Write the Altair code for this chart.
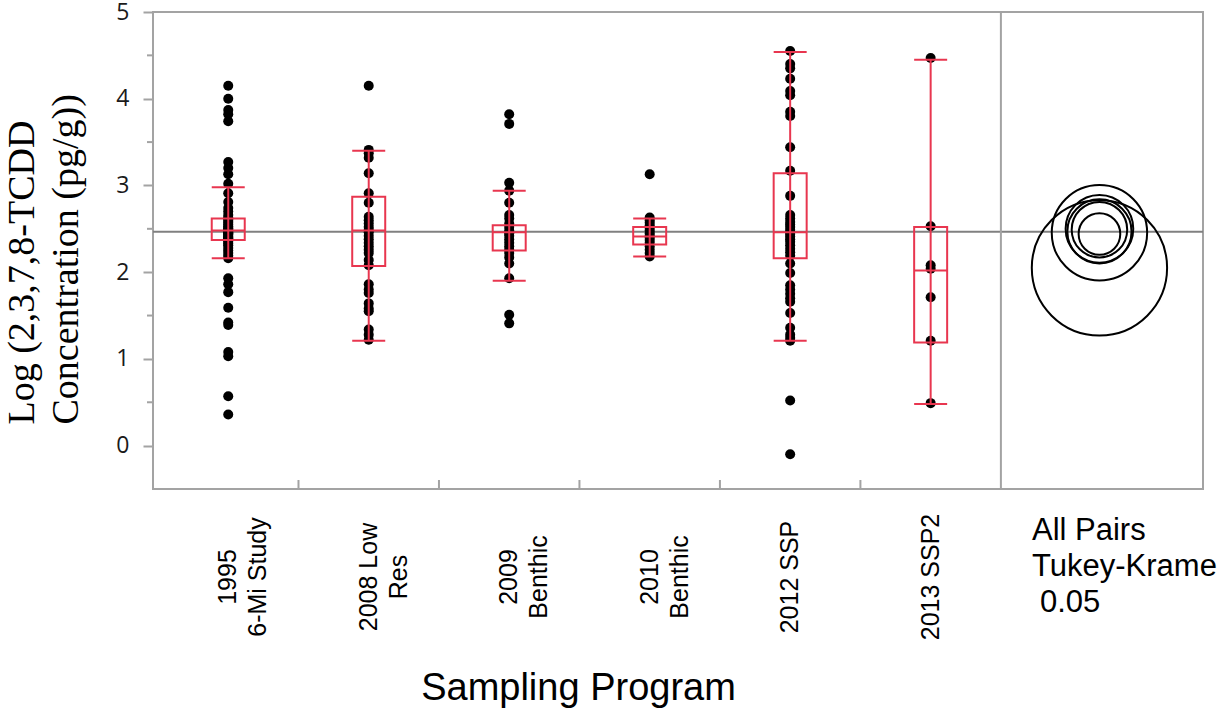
import altair as alt
import pandas as pd

# Sampling programs (x categories), label lines split with "\n"
programs = ["1995\n6-Mi Study", "2008 Low\nRes", "2009\nBenthic",
            "2010\nBenthic", "2012 SSP", "2013 SSP2"]

# log10 2,3,7,8-TCDD concentrations (pg/g) per program
conc_1995 = [4.15, 4.00, 3.87, 3.82, 3.74, 3.27, 3.20, 3.13, 3.02, 2.91, 2.81,
             2.74, 2.70, 2.66, 2.63, 2.61, 2.59, 2.57, 2.55, 2.53, 2.51, 2.50,
             2.49, 2.48, 2.47, 2.46, 2.45, 2.44, 2.43, 2.41, 2.40, 2.39, 2.38,
             2.37, 2.35, 2.33, 2.31, 2.28, 2.25, 2.22, 2.19, 2.16, 1.93, 1.86,
             1.77, 1.59, 1.42, 1.39, 1.08, 1.03, 0.57, 0.36]
conc_2008 = [4.15, 3.41, 3.37, 3.32, 3.14, 2.91, 2.80, 2.64, 2.60, 2.56, 2.52,
             2.49, 2.46, 2.42, 2.38, 2.34, 2.30, 2.26, 2.22, 2.14, 2.08, 1.86,
             1.80, 1.76, 1.64, 1.58, 1.55, 1.34, 1.28, 1.22]
conc_2009 = [3.82, 3.71, 3.03, 2.94, 2.80, 2.66, 2.62, 2.56, 2.52, 2.48, 2.45,
             2.42, 2.38, 2.34, 2.30, 2.26, 2.22, 2.17, 2.10, 1.93, 1.51, 1.41]
conc_2010 = [3.13, 2.63, 2.60, 2.57, 2.54, 2.51, 2.48, 2.45, 2.42, 2.40, 2.37,
             2.34, 2.30, 2.26, 2.22, 2.18]
conc_2012 = [4.55, 4.40, 4.35, 4.23, 4.09, 4.04, 3.85, 3.80, 3.44, 3.17, 2.88,
             2.66, 2.62, 2.58, 2.55, 2.52, 2.49, 2.46, 2.44, 2.41, 2.38, 2.35,
             2.31, 2.27, 2.23, 2.19, 2.10, 1.99, 1.85, 1.80, 1.75, 1.70, 1.66,
             1.53, 1.36, 1.28, 1.24, 1.21, 0.52, -0.10]
conc_2013 = [4.47, 2.53, 2.08, 2.04, 1.71, 1.21, 0.49]
series = [conc_1995, conc_2008, conc_2009, conc_2010, conc_2012, conc_2013]

# Quantile box summaries per program
box_q1 = [2.37, 2.07, 2.25, 2.32, 2.16, 1.19]
box_median = [2.48, 2.48, 2.46, 2.41, 2.46, 2.02]
box_q3 = [2.62, 2.87, 2.54, 2.52, 3.14, 2.52]
whisker_lo = [2.16, 1.21, 1.90, 2.18, 1.21, 0.48]
whisker_hi = [2.98, 3.40, 2.94, 2.62, 4.54, 4.45]

grand_mean = 2.465

# Tukey-Kramer comparison circles: centre (group mean) and radius, log units
circle_center = [2.44, 2.47, 2.50, 2.455, 2.49, 2.05]
circle_radius = [0.24, 0.37, 0.39, 0.55, 0.32, 0.78]

compare_caption = "All Pairs\nTukey-Krame"
compare_alpha = "0.05"
x_title = "Sampling Program"
y_title = ["Log (2,3,7,8-TCDD", "Concentration (pg/g))"]

# ---- layout -------------------------------------------------------------
MAIN_PX = 851          # width of the six program bands
TOTAL_PX = 1050        # plus the comparison-circle panel
PLOT_H = 477
X_MAX = 6 * TOTAL_PX / MAIN_PX
Y_DOMAIN = [-0.5, 5.0]
PX_PER_UNIT = PLOT_H / (Y_DOMAIN[1] - Y_DOMAIN[0])
CIRCLE_X = (6 + X_MAX) / 2

RED = "#e8364f"
FRAME = "#a3a3a3"
BOX_W = 33

points = pd.DataFrame([
    {"program": p, "pos": i + 0.5, "value": v}
    for i, (p, vals) in enumerate(zip(programs, series)) for v in vals
])
boxes = pd.DataFrame({
    "program": programs,
    "pos": [i + 0.5 for i in range(len(programs))],
    "q1": box_q1, "median": box_median, "q3": box_q3,
    "lo": whisker_lo, "hi": whisker_hi,
})
circles = pd.DataFrame({"value": circle_center, "radius": circle_radius,
                        "pos": [CIRCLE_X] * len(circle_center)})
boundaries = pd.DataFrame({"pos": [1, 2, 3, 4, 5]})
separator = pd.DataFrame({"pos": [6]})
minor = pd.DataFrame({"value": [0.5, 1.5, 2.5, 3.5, 4.5]})
mean_df = pd.DataFrame({"value": [grand_mean]})

xs = alt.Scale(domain=[0, X_MAX], nice=False, zero=False)
ys = alt.Scale(domain=Y_DOMAIN, nice=False, zero=False)

y_axis = alt.Axis(
    values=[0, 1, 2, 3, 4, 5], tickSize=10, tickWidth=2, tickColor=FRAME,
    domain=False, grid=False, labelFont="Open Sans", labelFontSize=23,
    labelColor="#1a1a1a", labelPadding=14,
    title=y_title, titleFont="Liberation Serif", titleFontSize=38,
    titleFontWeight="normal", titleColor="black", titleAngle=270,
    titleAlign="left", titleBaseline="alphabetic", titleLineHeight=44,
    titleX=-120, titleY=412,
)


def X(field="pos"):
    return alt.X(f"{field}:Q", scale=xs, axis=None)


def Y(field):
    return alt.Y(f"{field}:Q", scale=ys, axis=y_axis)


dots = alt.Chart(points).mark_circle(size=100, color="black", opacity=1).encode(
    x=X(), y=Y("value"))

mean_line = alt.Chart(mean_df).mark_rule(color="#808080", strokeWidth=2).encode(
    y=Y("value"))

whiskers = alt.Chart(boxes).mark_rule(color=RED, strokeWidth=2).encode(
    x=X(), y=Y("lo"), y2="hi:Q")

box = alt.Chart(boxes).mark_bar(size=BOX_W, fillOpacity=0, stroke=RED,
                                strokeWidth=2).encode(
    x=X(), y=Y("q1"), y2="q3:Q")

tick_kw = dict(size=BOX_W, thickness=2, orient="horizontal", color=RED, opacity=1)
med = alt.Chart(boxes).mark_tick(**tick_kw).encode(x=X(), y=Y("median"))
cap_lo = alt.Chart(boxes).mark_tick(**tick_kw).encode(x=X(), y=Y("lo"))
cap_hi = alt.Chart(boxes).mark_tick(**tick_kw).encode(x=X(), y=Y("hi"))

rings = alt.Chart(circles).transform_calculate(
    ring=f"pow(2 * datum.radius * {PX_PER_UNIT}, 2)"
).mark_point(shape="circle", filled=False, color="black", strokeWidth=2,
             opacity=1).encode(
    x=X(), y=Y("value"), size=alt.Size("ring:Q", scale=None, legend=None))

band_ticks = alt.Chart(boundaries).mark_rule(color=FRAME, strokeWidth=2).encode(
    x=X(), y=alt.value(PLOT_H), y2=alt.value(PLOT_H - 9))

sep_line = alt.Chart(separator).mark_rule(color=FRAME, strokeWidth=2).encode(
    x=X(), y=alt.value(0), y2=alt.value(PLOT_H))

minor_ticks = alt.Chart(minor).mark_rule(color=FRAME, strokeWidth=2).encode(
    y=Y("value"), x=alt.value(-6), x2=alt.value(0))

prog_labels = alt.Chart(boxes).mark_text(
    angle=270, align="center", baseline="middle", lineBreak="\n",
    lineHeight=30, font="Liberation Sans", fontSize=25, color="black",
).encode(x=X(), y=alt.value(565), text="program:N")

xtitle = alt.Chart(pd.DataFrame({"t": [x_title]})).mark_text(
    font="Liberation Sans", fontSize=38, color="black", align="center",
    baseline="alphabetic",
).encode(x=alt.value(MAIN_PX / 2), y=alt.value(688), text="t:N")

caption_kw = dict(font="Liberation Sans", fontSize=31, color="black",
                  align="left", baseline="alphabetic", lineBreak="\n",
                  lineHeight=36)
caption = alt.Chart(pd.DataFrame({"t": [compare_caption]})).mark_text(
    **caption_kw).encode(x=alt.value(879), y=alt.value(528), text="t:N")
alpha = alt.Chart(pd.DataFrame({"t": [compare_alpha]})).mark_text(
    **caption_kw).encode(x=alt.value(887), y=alt.value(600), text="t:N")

chart = alt.layer(
    mean_line, sep_line, band_ticks, minor_ticks, dots, whiskers, box,
    med, cap_lo, cap_hi, rings, prog_labels, xtitle, caption, alpha,
).properties(
    width=TOTAL_PX, height=PLOT_H,
    autosize=alt.AutoSizeParams(type="none"),
    padding={"left": 153, "top": 12, "right": 1232 - 153 - TOTAL_PX,
             "bottom": 708 - 12 - PLOT_H},
    background="white",
).configure_view(stroke=FRAME, strokeWidth=2)

chart.save("out.html", embed_options={"renderer": "svg", "actions": False})
